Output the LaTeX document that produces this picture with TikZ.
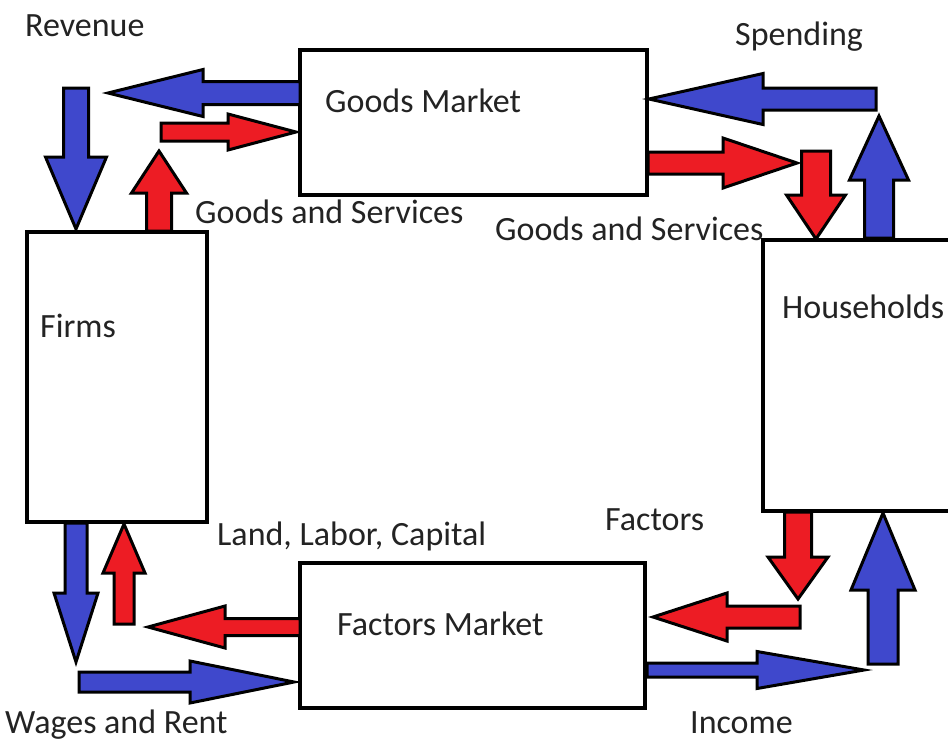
\documentclass[tikz,border=0pt]{standalone}
\usepackage{fontspec}
\setmainfont{Carlito}
\usetikzlibrary{calc}
\definecolor{paintblue}{RGB}{63,72,204}
\definecolor{paintred}{RGB}{237,28,36}
\definecolor{txt}{RGB}{35,35,35}
\newcommand\blockarrow[6]{%
  \coordinate (hb) at ($(#3)!#6!(#2)$);
  \draw[flowline, fill=#1]
    ($(#2)!#4!90:(#3)$) -- ($(hb)!#4!90:(#3)$) -- ($(hb)!#5!90:(#3)$) --
    (#3) -- ($(hb)!#5!-90:(#3)$) -- ($(hb)!#4!-90:(#3)$) --
    ($(#2)!#4!-90:(#3)$) -- cycle;}
\tikzset{
  box/.style={draw=black, line width=4pt, fill=white, inner sep=0pt},
  flowline/.style={draw=black, line width=3pt, line join=miter},
  lbl/.style={anchor=base west, inner sep=0pt, text=txt, font=\fontsize{34}{40}\selectfont},
}
\begin{document}
\begin{tikzpicture}[x=1pt,y=-1pt]
\useasboundingbox (0,0) rectangle (948,740);
% boxes
\node[box, minimum width=347pt, minimum height=145pt] (gm) at (473.5,122.5) {};
\node[box, minimum width=180pt, minimum height=290pt] (firms) at (117,377) {};
\node[box, minimum width=197pt, minimum height=271pt] (hh) at (861.5,375.5) {};
\node[box, minimum width=345pt, minimum height=145pt] (fm) at (472.5,635.5) {};
% box texts
\node[lbl] (gmt) at (325,112) {Goods Market};
\node[lbl] (firmst) at (40,337) {Firms};
\node[lbl] (hht) at (782,318) {Households};
\node[lbl] (fmt) at (337,635) {Factors Market};
% labels
\node[lbl] (rev) at (25,36) {Revenue};
\node[lbl] (spend) at (735,45) {Spending};
\node[lbl] (gsl) at (195,223) {Goods and Services};
\node[lbl] (gsr) at (495,240) {Goods and Services};
\node[lbl] (llc) at (217,545) {Land, Labor, Capital};
\node[lbl] (fac) at (605,530) {Factors};
\node[lbl] (wr) at (5,733) {Wages and Rent};
\node[lbl] (inc) at (690,733) {Income};
% arrow end points
\coordinate (a1t) at (300,93);  \coordinate (a1h) at (108,93);
\coordinate (a2t) at (161,132); \coordinate (a2h) at (296,132);
\coordinate (a3t) at (76,88);   \coordinate (a3h) at (76,229);
\coordinate (a4t) at (159,231); \coordinate (a4h) at (159,151);
\coordinate (a5t) at (876,99);  \coordinate (a5h) at (649,99);
\coordinate (a6t) at (648,163); \coordinate (a6h) at (797,163);
\coordinate (a7t) at (816,151); \coordinate (a7h) at (816,239);
\coordinate (a8t) at (879,238); \coordinate (a8h) at (879,116);
\coordinate (a9t) at (76,523);  \coordinate (a9h) at (76,662);
\coordinate (a10t) at (124,624); \coordinate (a10h) at (124,524);
\coordinate (a11t) at (300,627); \coordinate (a11h) at (148,627);
\coordinate (a12t) at (79,682);  \coordinate (a12h) at (294,682);
\coordinate (a13t) at (798,512); \coordinate (a13h) at (798,599);
\coordinate (a14t) at (800,617); \coordinate (a14h) at (653,617);
\coordinate (a15t) at (647,670); \coordinate (a15h) at (864,670);
\coordinate (a16t) at (883,664); \coordinate (a16h) at (883,513);
% arrows
\blockarrow{paintblue}{a1t}{a1h}{11.5pt}{23.5pt}{95pt}
\blockarrow{paintred}{a2t}{a2h}{9pt}{18pt}{68pt}
\blockarrow{paintblue}{a3t}{a3h}{12.5pt}{30.5pt}{72pt}
\blockarrow{paintred}{a4t}{a4h}{12.5pt}{27.5pt}{42pt}
\blockarrow{paintblue}{a5t}{a5h}{11pt}{25.5pt}{114pt}
\blockarrow{paintred}{a6t}{a6h}{11pt}{25pt}{74pt}
\blockarrow{paintred}{a7t}{a7h}{14.5pt}{29.5pt}{44pt}
\blockarrow{paintblue}{a8t}{a8h}{14.5pt}{29.5pt}{64pt}
\blockarrow{paintblue}{a9t}{a9h}{11pt}{22pt}{69pt}
\blockarrow{paintred}{a10t}{a10h}{10pt}{21pt}{49pt}
\blockarrow{paintred}{a11t}{a11h}{8.5pt}{21pt}{77pt}
\blockarrow{paintblue}{a12t}{a12h}{10pt}{21pt}{104pt}
\blockarrow{paintred}{a13t}{a13h}{13.5pt}{30pt}{42pt}
\blockarrow{paintred}{a14t}{a14h}{11pt}{24pt}{74pt}
\blockarrow{paintblue}{a15t}{a15h}{7pt}{18.5pt}{107pt}
\blockarrow{paintblue}{a16t}{a16h}{15pt}{32pt}{77pt}
\end{tikzpicture}
\end{document}
